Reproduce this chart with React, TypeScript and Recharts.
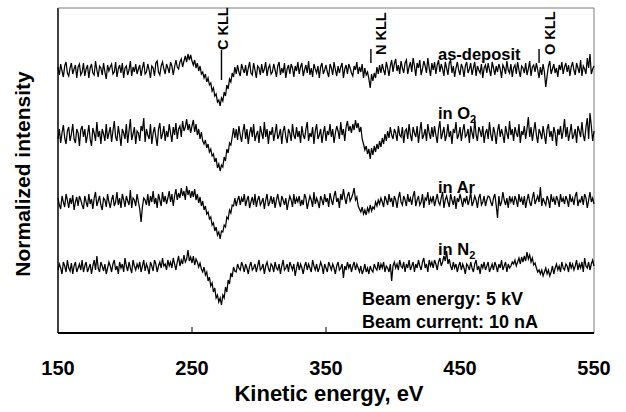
import { Line, LineChart, ReferenceLine, XAxis, YAxis } from "recharts";

// Auger spectra (derivative mode), one sample per eV from 150 to 550 eV
const EV_START = 150;
const EV_STEP = 1;

const asDeposit = [
  3, -5, 6, -1, -7, 4, 8, -3, -6, 2, 7, -4, 1, 5, -8, 3, 6, -5, -2, 7,
  -6, 1, 5, -8, 2, 6, -3, -5, 9, 0, -7, 4, 2, -5, 7, -2, -9, 5, -1, 3,
  6, -4, -2, 8, -7, 1, 5, -3, 7, -8, 2, 4, -5, 0, 9, -6, 3, -2, 6, -4,
  1, 5, -6, 2, 8, -4, -2, 6, 0, -8, 4, 2, -6, 7, 9, -2, -5, 4, 8, 1,
  -4, 6, 2, -3, 8, 4, -5, 3, 10, 3, 1, 8, 11, 3, 9, 14, 8, 16, 10, 15,
  9, 5, 10, 2, 7, -1, 4, -4, -2, -8, -4, -12, -8, -15, -13, -21, -18, -26, -24, -32,
  -30, -36, -28, -31, -22, -26, -15, -19, -9, -12, -3, -7, 3, -4, 5, -2, -6, 6, 1, -3,
  5, -6, 2, 8, -3, -5, 7, 0, -8, 4, 2, -5, 6, -3, 1, 8, -6, 2, 5, -4,
  -2, 6, 0, -7, 4, 8, -5, 2, -3, 7, -8, 1, 5, -4, 6, 2, -7, 4, -1, 8,
  -4, 3, 7, -6, 0, 5, -3, 9, -5, 2, -7, 6, 1, -3, 4, -8, 3, 7, -4, 0,
  5, -2, -7, 6, 2, -5, 8, 0, -6, 4, -3, 3, 7, -8, 1, 5, -4, 6, 2, -3,
  -6, 4, 0, 8, -4, 3, -2, 6, -8, 2, -5, -2, -9, -18, -4, -11, -3, -8, 3, -4,
  5, -3, 6, 0, -5, 8, 2, -6, 4, 10, -2, 6, 11, -1, 5, -4, 9, 2, -3, 7,
  10, -4, 3, 8, -2, 12, 4, -6, 7, 2, 10, -5, 1, 9, 4, -3, 12, 2, -6, 7,
  0, 8, -4, 5, 10, -2, 6, 1, -6, 8, 2, -5, 7, 10, -3, 4, -7, 2, 8, 0,
  -5, 6, 2, -7, 4, 8, -3, 1, 7, -5, 2, 8, -6, 4, 0, -3, 6, -8, 2, 5,
  -3, 7, 0, -6, 8, 2, -5, 4, -2, 6, 1, -8, 5, 2, -4, 9, 0, -3, 6, -7,
  2, 5, -4, 8, 0, -7, 4, 2, -3, 7, -5, 1, 9, -6, 3, 5, -2, 7, 0, -8,
  3, -5, 6, -2, -17, -6, 4, 9, -4, 1, 6, -3, 2, -7, 5, 0, 8, -4, 3, 7,
  -2, 5, -6, 3, 8, 0, -5, 7, 2, -3, 10, -6, 4, 1, -4, 12, 2, 16, -4, 1,
  4,
];

const inO2 = [
  -4, 6, -8, 2, 10, -3, -9, 4, 8, -6, 1, 11, -4, -8, 6, 2, -11, 5, 9, -2,
  6, -8, 0, 10, -4, -11, 7, 2, -6, 13, -2, 4, -9, 6, 1, -6, 11, -4, 2, 8,
  -7, 4, 14, -2, -6, 9, 0, -11, 6, 2, -4, 11, -8, 4, 16, -5, 1, 8, -9, 4,
  2, -6, 9, 4, 17, -7, 6, 0, -4, 11, -9, 2, 8, -2, -11, 6, 12, -4, 1, 9,
  -6, 4, -2, 11, 2, -7, 8, 0, 12, -4, 6, 9, -2, 14, 4, 8, 16, 5, 11, 2,
  9, 15, 3, 11, 0, 6, -4, 3, -6, -9, -5, -13, -9, -17, -14, -21, -19, -27, -23, -33,
  -29, -36, -30, -32, -22, -26, -14, -18, -8, -10, -2, 7, -3, 6, -5, 9, 0, -7, 4, 11,
  -4, 6, -9, 2, 8, -2, 11, -6, 0, 4, -8, 9, 2, -4, 13, -2, 6, -9, 4, 0,
  8, -6, 2, 11, -4, 0, 6, -9, 4, 9, -2, -8, 6, 2, -6, 11, 0, -4, 8, -2,
  4, -8, 9, 0, -4, 6, 13, -6, 2, -2, 8, -9, 4, 11, -4, 0, 6, -8, 2, 9,
  -6, 4, 0, 11, -2, 6, -8, 2, 9, 4, -4, 13, 0, 6, -6, 8, 14, 4, 9, 2,
  11, 5, 15, 7, 12, 3, 8, -4, -9, -15, -11, -19, -14, -24, -13, -20, -11, -17, -9, -14,
  -6, -12, -3, -9, 1, -6, 4, -3, 8, 0, -4, 6, 2, -6, 9, 0, -2, 8, -8, 4,
  6, -4, 11, 0, -6, 8, 2, -2, 9, -8, 4, 13, -4, 0, 6, -6, 11, 2, -4, 8,
  -2, 9, 0, -8, 6, 14, -4, 2, 8, -6, 0, 11, -2, 4, -9, 6, 2, 13, -4, 0,
  8, -6, 4, 11, -2, 0, 6, -8, 9, 2, -4, 16, 0, -6, 8, 4, -2, 9, -8, 2,
  6, -4, 13, 0, -6, 8, 2, -9, 4, 11, -2, 6, 0, -8, 9, 2, -4, 14, 0, 6,
  -6, 8, 2, -2, 11, -8, 4, 0, 9, -4, 6, 18, -2, 8, -6, 4, 13, 0, -8, 6,
  2, -4, 9, 0, -9, 6, 11, -2, 4, -6, 8, 2, -11, 6, 0, 9, -4, 4, 16, -2,
  8, -6, 2, 11, -4, 0, 6, -8, 9, 4, -2, 13, 0, -6, 8, 17, -4, 22, 9, -6,
  4,
];

const inAr = [
  4, -3, -7, 6, 0, -5, 8, 2, -6, 4, -2, 7, -8, 0, 5, -4, 6, 2, -3, -7,
  6, 0, -5, 8, -2, 3, -7, 4, 10, -4, 1, 6, -3, -8, 4, 2, -5, 8, 0, -6,
  2, 7, -4, 0, 10, -3, 4, -6, 8, 2, -5, 6, 1, -3, 12, -6, 4, 2, -4, 8,
  0, -7, -20, -5, 4, 2, -3, 8, -4, 6, 0, 11, -2, 4, -6, 8, 2, -4, 10, 0,
  6, -2, 4, 11, 0, 8, -4, 6, 13, 2, 9, 4, 14, 6, 11, 2, 16, 7, 12, 4,
  11, 5, 13, 2, 8, -1, 5, -4, 1, -8, -4, -12, -10, -17, -15, -23, -21, -29, -25, -33,
  -30, -37, -29, -30, -23, -25, -15, -17, -8, -11, -3, -4, 4, -4, 2, 6, -3, 4, 0, 8,
  -4, 2, 6, -6, 0, 5, -3, 8, -5, 2, 6, -3, 0, 4, -7, 2, 8, -4, 0, 6,
  -2, 5, -6, 2, 8, 0, -5, 6, 2, -3, 4, -8, 0, 6, 2, -5, 8, -2, 4, 0,
  6, -4, 2, -3, 8, 4, -7, 0, 6, 2, -5, 10, -2, 4, 0, -6, 6, 2, -3, 8,
  0, 4, -5, 9, 2, -3, 6, 11, 0, 4, -6, 8, 2, 13, 4, -2, 6, 10, 1, 4,
  8, 14, 2, 5, -4, -7, -10, -5, -12, -8, -13, -6, -10, -3, -9, -5, -7, 0, -4, 2,
  -2, 4, 0, -5, 6, 2, -3, 8, 0, 4, -5, 6, 2, -6, 4, 10, 0, -3, 6, 2,
  -4, 8, 0, 4, -3, 6, 11, -4, 2, 6, -3, 0, 8, -6, 4, 2, 10, -3, 4, 0,
  6, -4, 2, 8, 0, -3, 4, 10, -6, 2, 6, 0, -5, 8, 2, -3, 6, -7, 4, 0,
  8, 2, -5, 4, 0, 6, -3, 2, 10, -4, 0, 6, 2, -6, 4, 8, -3, 0, 6, -4,
  2, 6, 5, 0, -4, 4, 8, -3, -16, 6, -4, 0, 10, 2, -3, 4, -6, 6, 0, 4,
  -3, 6, 2, -5, 8, 0, 4, -3, 6, -6, 2, 8, 0, -4, 4, 10, -2, 2, 6, 0,
  15, -4, 4, 0, -3, 6, 2, -6, 8, 0, 4, -3, 6, 2, -5, 8, 0, 4, -2, 6,
  2, -5, 8, 0, 4, -3, 6, 10, -4, 2, 0, 6, -3, 8, 4, -6, 2, 10, 0, 4,
  -2,
];

const inN2 = [
  -2, 4, 0, -6, 6, 2, -4, 8, 0, -3, 5, -6, 2, 6, -4, 0, 4, -2, 8, -4,
  2, 6, -4, 0, 4, -6, 2, 8, -2, 12, 0, -4, 6, 2, -3, 4, -6, 0, 6, 2,
  -4, 4, 8, -2, 2, -6, 6, 0, 4, -4, 10, 2, -3, 6, 0, -5, 8, 2, -2, 4,
  0, 6, -4, 2, 8, -3, 4, 0, -6, 6, 2, -3, 8, 4, -4, 2, 6, 0, 10, 2,
  4, -2, 8, 2, 6, 0, 10, 4, -2, 6, 12, 2, 8, 4, 13, 6, 9, 18, 7, 11,
  5, 12, 3, 9, 6, 1, 5, -1, -4, 1, -7, -4, -13, -9, -18, -15, -24, -20, -30, -27,
  -34, -30, -37, -27, -30, -19, -24, -12, -16, -5, -9, 1, -3, -4, 4, 0, -2, 6, 2, -4,
  4, 0, -6, 2, 6, -2, 0, 4, -4, 2, 8, -2, 0, 4, -6, 2, 6, 0, -4, 4,
  2, -4, 6, 0, -2, 4, -6, 2, 8, -2, 0, 4, -4, 6, 2, -2, 4, -8, 0, 6,
  -2, 4, 0, -6, 2, 6, -2, 4, 0, -4, 8, 2, -2, 4, -4, 0, 6, 2, -6, 4,
  0, -4, 6, 2, -2, 4, 0, -6, 2, 6, -2, 0, 4, -10, 2, -2, 6, 0, 4, -4,
  2, 6, -2, 4, 0, -4, 2, -6, -2, 4, -4, 0, -6, 2, -2, -4, 4, 0, -2, 6,
  -2, 4, 0, 6, -4, 2, 0, -4, 4, -13, 2, 6, 0, 4, -2, 8, 2, 0, 6, -4,
  4, 0, 8, -2, 2, 6, -4, 4, 0, 8, 2, -2, 6, 10, 0, 4, -4, 8, 2, 6,
  0, 8, 4, -2, 6, 10, 2, 6, 12, 7, 17, 4, 9, 2, -2, 6, 0, 4, -4, 2,
  6, -2, 4, 0, -6, 4, 2, -2, 6, 0, -4, 4, 8, -2, 2, -6, 4, 0, 6, -2,
  2, 6, -4, 0, 4, -2, 6, 2, -4, 4, 0, 8, -2, 2, 6, -4, 4, 0, 2, 6,
  4, 8, 2, 6, 10, 4, 11, 6, 12, 7, 16, 9, 13, 6, 10, 3, 5, 0, -4, -2,
  -6, -2, -8, -4, 0, -6, -2, -8, -4, 2, -6, 0, 4, -2, 2, -4, 6, 0, -2, 4,
  2, -4, 6, 0, 4, -2, 2, 8, -2, 4, 0, 6, -4, 10, 2, 0, 6, -2, 4, 8,
  2,
];

// vertical stacking offsets of the four spectra
const traceKeys = ["asDeposit", "inO2", "inAr", "inN2"];
const traceValues = [asDeposit, inO2, inAr, inN2];
const traceOffsets = [263, 198, 131, 65];

const energyTicks = [150, 250, 350, 450, 550];

// Auger line markers: energy and vertical extent of the bar
const peakMarks = [
  { label: "C KLL", ev: 272, from: 253, to: 283 },
  { label: "N KLL", ev: 383.5, from: 270, to: 284 },
  { label: "O KLL", ev: 509, from: 270, to: 284 },
];

const data = asDeposit.map((_, i) => {
  const row: Record<string, number> = { ev: EV_START + i * EV_STEP };
  traceKeys.forEach((k, j) => {
    row[k] = traceValues[j][i] + traceOffsets[j];
  });
  return row;
});

const FONT = "'Liberation Sans', Arial, Helvetica, sans-serif";

function EnergyTick({ x, y, payload }: { x?: number; y?: number; payload?: { value: number } }) {
  if (x == null || y == null || !payload) return null;
  const edge = payload.value === 150 || payload.value === 550;
  return (
    <g>
      {!edge && <line x1={x} x2={x} y1={y} y2={y - 6} stroke="#000" strokeWidth={1} />}
      <text x={x} y={y + 42} textAnchor="middle" fontFamily={FONT} fontWeight="bold" fontSize={20} fill="#000">
        {payload.value}
      </text>
    </g>
  );
}

export default function App() {
  return (
    <div style={{ position: "absolute", left: 0, top: 0, width: 626, height: 412, background: "#fff" }}>
      <LineChart width={626} height={412} data={data} margin={{ top: 8, right: 32, left: 58, bottom: 0 }}>
        <XAxis
          dataKey="ev"
          type="number"
          domain={[150, 550]}
          ticks={energyTicks}
          interval={0}
          height={79}
          tickSize={0}
          tickMargin={0}
          tickLine={false}
          axisLine={{ stroke: "#000", strokeWidth: 2 }}
          tick={<EnergyTick />}
        />
        <YAxis type="number" domain={[0, 325]} hide />
        <ReferenceLine x={150} stroke="#000" strokeWidth={1.5} />
        <ReferenceLine x={550} stroke="#7a7a7a" strokeWidth={1} />
        <ReferenceLine y={325} stroke="#7a7a7a" strokeWidth={1} />
        {traceKeys.map((k) => (
          <Line
            key={k}
            type="linear"
            dataKey={k}
            stroke="#000"
            strokeWidth={1.25}
            dot={false}
            activeDot={false}
            isAnimationActive={false}
          />
        ))}
        {peakMarks.map((p) => (
          <ReferenceLine
            key={p.label}
            segment={[
              { x: p.ev, y: p.from },
              { x: p.ev, y: p.to },
            ]}
            stroke="#000"
            strokeWidth={1.4}
          />
        ))}
      </LineChart>
      <svg
        width={626}
        height={412}
        style={{ position: "absolute", left: 0, top: 0, pointerEvents: "none" }}
        fontFamily={FONT}
        fontWeight="bold"
        fill="#000"
      >
        <text transform="translate(30,174) rotate(-90)" textAnchor="middle" fontSize={21}>
          Normalized intensity
        </text>
        <text x={329} y={401} textAnchor="middle" fontSize={22}>
          Kinetic energy, eV
        </text>

        <text transform="translate(228,50) rotate(-90)" fontSize={14.5}>C KLL</text>
        <text transform="translate(385.5,55) rotate(-90)" fontSize={14.5}>N KLL</text>
        <text transform="translate(554.5,55) rotate(-90)" fontSize={14.5}>O KLL</text>

        <text x={438} y={60} fontSize={16.5}>as-deposit</text>
        <text x={438} y={119} fontSize={16.5}>
          in O<tspan fontSize={11} dy={4}>2</tspan>
        </text>
        <text x={438} y={193} fontSize={16.5}>in Ar</text>
        <text x={438} y={255} fontSize={16.5}>
          in N<tspan fontSize={11} dy={4}>2</tspan>
        </text>

        <text x={362} y={305} fontSize={18}>Beam energy: 5 kV</text>
        <text x={362} y={328} fontSize={18}>Beam current: 10 nA</text>
      </svg>
    </div>
  );
}
